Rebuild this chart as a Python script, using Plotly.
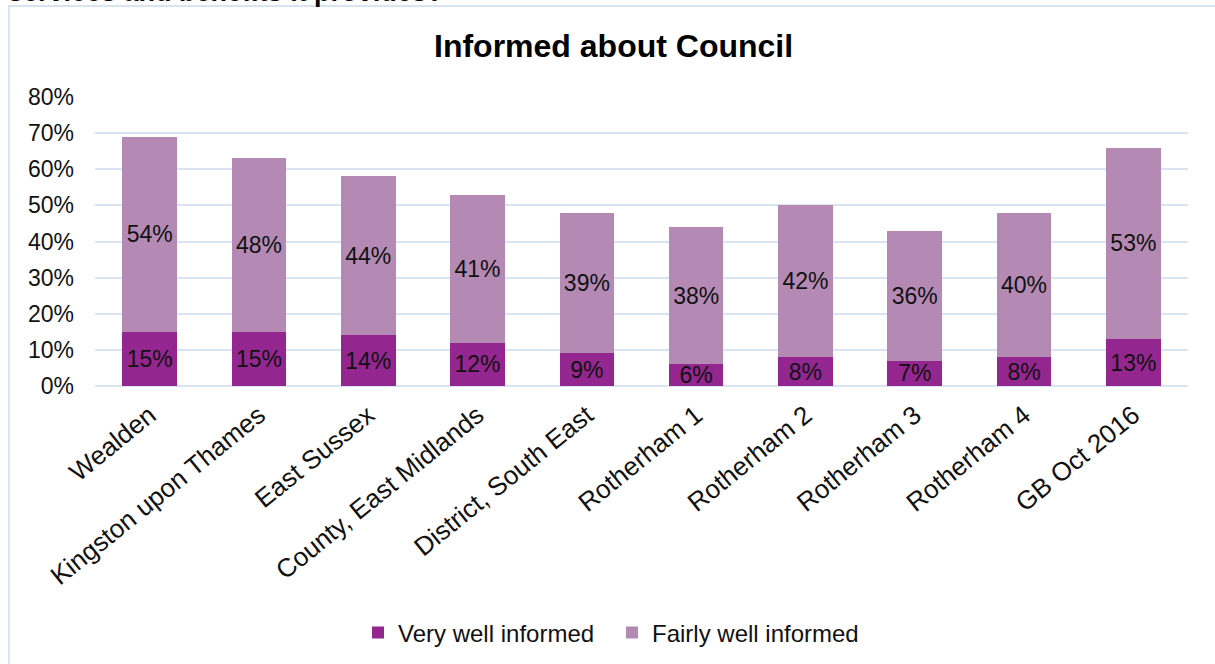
import plotly.graph_objects as go

# Survey results: share of residents who feel informed about their council
areas = ["Wealden", "Kingston upon Thames", "East Sussex", "County, East Midlands",
         "District, South East", "Rotherham 1", "Rotherham 2", "Rotherham 3",
         "Rotherham 4", "GB Oct 2016"]
very_well = [15, 15, 14, 12, 9, 6, 8, 7, 8, 13]
fairly_well = [54, 48, 44, 41, 39, 38, 42, 36, 40, 53]
y_ticks = [0, 10, 20, 30, 40, 50, 60, 70, 80]
y_tick_labels = [f"{v}%" for v in y_ticks]

W, H = 1215, 664
L, R, T, B = 95, 27, 97, 278          # plot area margins in px
plot_w, plot_h = W - L - R, H - T - B

def px_x(x):
    return (x - L) / plot_w

def px_y(y):
    return (H - B - y) / plot_h

FONT = "Liberation Sans, Arial, sans-serif"
DARK = "#93278F"
LIGHT = "#B48AB4"
GRID = "#D9E3F1"
INK = "#111111"

fig = go.Figure()
fig.add_trace(go.Bar(
    name="Very well informed", x=areas, y=very_well, legend="legend",
    marker=dict(color=DARK, line=dict(width=0)),
    text=[f"{v}%" for v in very_well], textposition="inside",
    insidetextanchor="middle", textangle=0, constraintext="none",
    textfont=dict(family=FONT, size=23, color=INK),
))
fig.add_trace(go.Bar(
    name="Fairly well informed", x=areas, y=fairly_well, legend="legend2",
    marker=dict(color=LIGHT, line=dict(width=0)),
    text=[f"{v}%" for v in fairly_well], textposition="inside",
    insidetextanchor="middle", textangle=0, constraintext="none",
    textfont=dict(family=FONT, size=23, color=INK),
))

legend_style = dict(orientation="h", xanchor="left", y=px_y(633), yanchor="middle",
                    font=dict(family=FONT, size=24, color=INK),
                    itemwidth=30, bgcolor="rgba(0,0,0,0)")

fig.update_layout(
    barmode="stack",
    bargap=0.5,
    width=W, height=H,
    margin=dict(l=L, r=R, t=T, b=B, autoexpand=False),
    paper_bgcolor="white", plot_bgcolor="white",
    font=dict(family=FONT, size=23, color=INK),
    uniformtext=dict(mode=False),
    showlegend=True,
    legend=dict(x=px_x(358), **legend_style),
    legend2=dict(x=px_x(612), **legend_style),
    xaxis=dict(tickangle=-39, tickfont=dict(family=FONT, size=26, color=INK),
               showgrid=False, showline=False, ticks="", fixedrange=True,
               ticklabelstandoff=8),
    yaxis=dict(range=[0, 80], tickmode="array", tickvals=y_ticks, ticktext=y_tick_labels,
               tickfont=dict(family=FONT, size=23, color=INK),
               showgrid=True, gridcolor=GRID, gridwidth=1.5,
               zeroline=True, zerolinecolor=GRID, zerolinewidth=1.5,
               showline=False, ticks="", ticklabelstandoff=20),
    annotations=[
        dict(text="<b>Informed about Council</b>", xref="paper", yref="paper",
             x=px_x(613), y=px_y(46), xanchor="center", yanchor="middle",
             showarrow=False, font=dict(family=FONT, size=32, color="#000000")),
        dict(text="<b>services and benefits it provides?</b>", xref="paper", yref="paper",
             x=px_x(6), y=px_y(-8), xanchor="left", yanchor="middle",
             showarrow=False, font=dict(family=FONT, size=27, color="#000000")),
    ],
    shapes=[
        dict(type="rect", xref="paper", yref="paper",
             x0=px_x(9), x1=px_x(1230), y0=px_y(6), y1=px_y(690),
             line=dict(color=GRID, width=2), fillcolor="rgba(0,0,0,0)", layer="below"),
    ],
)

fig.write_html("out.html")
